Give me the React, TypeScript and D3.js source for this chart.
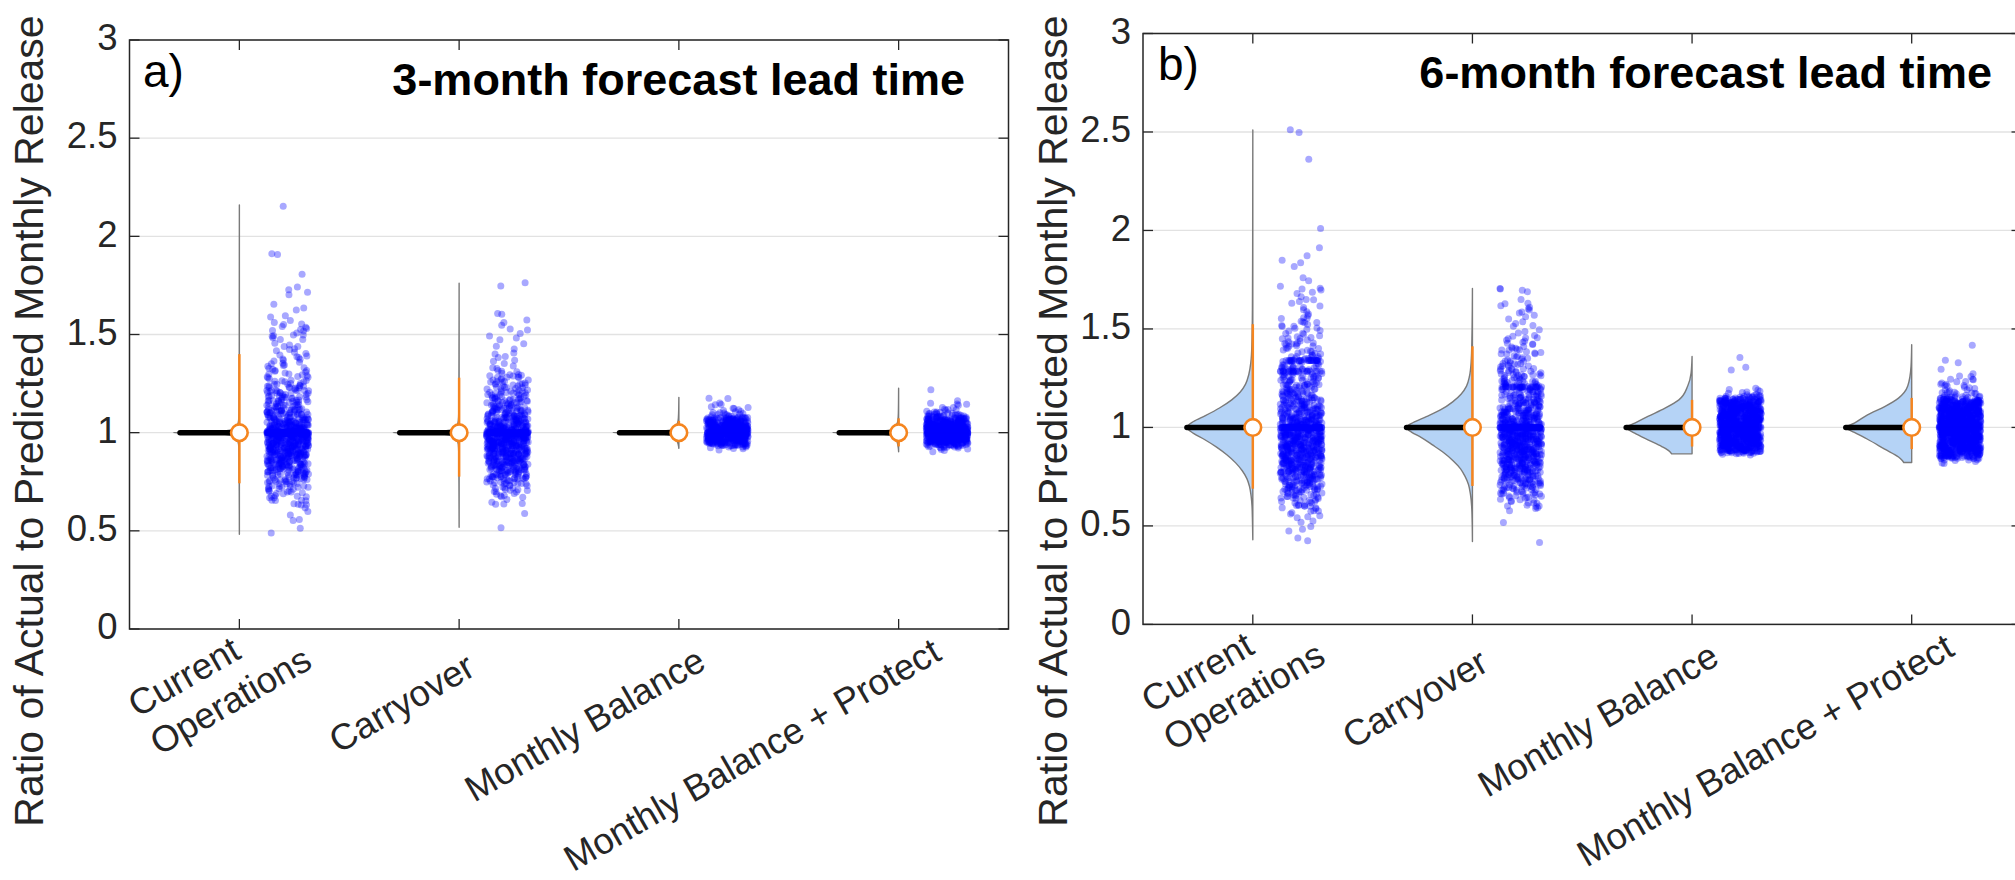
import React from "react";
import * as d3 from "d3";

const W = 2015;
const H = 880;
const FONT = "'Liberation Sans', Arial, Helvetica, sans-serif";
const AXIS_COLOR = "#262626";
const GRID_COLOR = "#e2e2e2";
const ORANGE = "#f5851f";
const VIOLIN_FILL = "#b5d3f6";
const VIOLIN_EDGE = "#7a7a7a";
const DOT_COLOR = "#0000ff";

// ---------- labels ----------
const categoryLines: string[][] = [["Current", "Operations"], ["Carryover"], ["Monthly Balance"], ["Monthly Balance + Protect"]];
const categoryPos = [1, 2, 3, 4];
const yTickValues = [0, 0.5, 1, 1.5, 2, 2.5, 3];
const yTickLabels = ["0", "0.5", "1", "1.5", "2", "2.5", "3"];
const panelTags = ["a)", "b)"];
const panelTitles = ["3-month forecast lead time", "6-month forecast lead time"];
const yAxisTitle = "Ratio of Actual to Predicted Monthly Release";
const BIN = 0.01;

// ---------- panel a (3-month): scatter histograms (counts per 0.01 bin from start) ----------
const aCOStart = 0.48;
const aCOCounts = [
  0, 1, 0, 1, 0, 0, 0, 1, 1, 0, 1, 0,
  1, 0, 1, 2, 2, 2, 2, 3, 3, 3,
  4, 4, 4, 5, 5, 6, 7, 7, 8, 9,
  10, 10, 11, 12, 13, 13, 14, 15, 16, 16,
  17, 17, 18, 19, 20, 20, 21, 22, 24, 26,
  28, 24, 21, 18, 16, 14, 13, 12, 11, 10,
  10, 9, 9, 8, 7, 7, 7, 7, 6, 6,
  6, 5, 5, 5, 5, 5, 4, 3, 3, 3,
  3, 2, 3, 2, 2, 3, 2, 2, 2, 2,
  2, 1, 2, 1, 2, 1, 1, 2, 1, 2,
  2, 1, 2, 2, 2, 2, 1, 1, 0, 1,
  1, 0, 1, 0, 1, 1, 0, 0, 0, 0,
  1, 0, 1, 1, 1, 0, 0, 0, 0, 0,
  0, 1, 0, 0, 0, 0, 0, 0, 0, 0,
  0, 2, 0, 0, 0, 0, 0, 0, 0, 0,
  0, 0, 0, 0, 0, 0, 0, 0, 0, 0,
  0, 0, 0, 0, 0, 1,
];
const aCOExact = [[1.0, 110]];

const aCAStart = 0.52;
const aCACounts = [
  1, 0, 0, 0, 0, 0, 0, 1,
  0, 0, 0, 1, 2, 1, 1, 2, 2, 2,
  3, 4, 4, 4, 5, 6, 7, 8, 8, 9,
  10, 11, 11, 12, 13, 14, 14, 15, 16, 17,
  17, 18, 18, 19, 20, 21, 21, 22, 24, 25,
  25, 22, 20, 17, 15, 14, 13, 12, 11, 11,
  10, 10, 9, 8, 8, 7, 7, 7, 6, 6,
  6, 5, 5, 4, 4, 5, 4, 4, 4, 3,
  3, 2, 1, 2, 1, 1, 1, 1, 1, 1,
  1, 1, 0, 1, 1, 1, 0, 1, 1, 1,
  1, 0, 1, 1, 0, 1, 1, 1, 0, 0,
  1, 1, 0, 0, 0, 0, 0, 0, 0, 0,
  0, 0, 0, 0, 0, 1, 1,
];
const aCAExact = [[1.0, 70]];

const aMBStart = 0.91;
const aMBCounts = [1, 3, 8, 18, 28, 34, 38, 42, 46, 46, 46, 42, 38, 34, 30, 26, 20, 12, 6, 4, 3, 3, 2, 2, 1, 0, 1, 1];
const aMBExact = [[1.0, 40]];

const aMPStart = 0.9;
const aMPCounts = [1, 2, 4, 10, 20, 28, 34, 38, 42, 46, 46, 46, 42, 38, 34, 30, 26, 22, 16, 10, 6, 4, 3, 2, 2, 2, 1, 0, 0, 0, 0, 0, 1];
const aMPExact = [[1.0, 40]];

// ---------- panel b (6-month) ----------
const bCOStart = 0.43;
const bCOCounts = [
  1, 1, 0, 0, 1, 1, 0,
  1, 0, 1, 1, 1, 2, 1, 2, 2, 3,
  4, 3, 4, 4, 5, 5, 6, 6, 7, 7,
  9, 8, 9, 10, 10, 11, 12, 12, 13, 13,
  14, 14, 15, 15, 15, 16, 16, 16, 16, 17,
  17, 17, 17, 17, 18, 18, 18, 18, 18, 18,
  18, 16, 15, 14, 14, 13, 12, 12, 11, 11,
  10, 10, 9, 9, 9, 8, 8, 8, 7, 7,
  7, 7, 6, 6, 6, 6, 5, 5, 5, 5,
  5, 5, 4, 4, 4, 4, 4, 4, 3, 3,
  3, 3, 3, 3, 3, 3, 2, 2, 2, 2,
  3, 2, 2, 2, 2, 2, 1, 1, 1, 1,
  1, 1, 1, 1, 1, 2, 1, 0, 1, 1,
  2, 1, 1, 0, 1, 0, 1, 0, 0, 0,
  0, 0, 1, 0, 1, 1, 0, 1, 0, 0,
  0, 1, 0, 0, 0, 0, 0, 0, 0, 0,
  0, 1, 0, 0, 0, 0, 0, 0, 0, 0,
  0, 0, 0, 0, 0, 0, 0, 0, 0, 0,
  0, 0, 0, 0, 0, 0, 0, 0, 0, 0,
  0, 0, 0, 0, 0, 0, 1, 0, 0, 0,
  0, 0, 0, 0, 0, 0, 0, 0, 0, 0,
  1, 1,
];
const bCOExact = [[1.0, 80], [1.34, 25], [1.285, 20]];

const bCAStart = 0.42;
const bCACounts = [
  1, 0, 0, 0, 0, 0, 0, 0,
  0, 0, 1, 0, 0, 0, 0, 0, 1, 2,
  3, 2, 3, 3, 4, 4, 5, 5, 6, 6,
  7, 8, 8, 9, 10, 10, 11, 11, 12, 13,
  13, 14, 14, 15, 15, 16, 16, 16, 17, 17,
  17, 18, 18, 18, 18, 18, 19, 19, 19, 19,
  18, 17, 16, 15, 14, 13, 13, 12, 11, 11,
  10, 10, 9, 9, 8, 8, 8, 7, 7, 7,
  7, 6, 6, 6, 5, 5, 5, 5, 4, 4,
  4, 4, 4, 3, 3, 3, 3, 3, 3, 3,
  3, 2, 2, 2, 2, 2, 2, 1, 1, 1,
  1, 1, 1, 1, 1, 1, 1, 1, 1, 1,
  2, 1, 1, 2, 0, 1, 0, 0, 0, 1,
  2, 1,
];
const bCAExact = [[1.0, 80], [1.205, 25]];

const bMBStart = 0.86;
const bMBCounts = [
  2, 12, 22, 26, 28, 30, 30, 30, 32, 32, 32, 32, 32, 32, 32, 32, 32, 32, 32, 32,
  30, 30, 30, 30, 28, 28, 26, 24, 20, 14,
  6, 3, 3, 2, 1,
  0, 0, 0, 0, 0, 0, 0, 0, 1, 0, 1, 0, 0, 0, 0, 1,
];
const bMBExact = [[1.0, 30]];

const bMPStart = 0.82;
const bMPCounts = [
  2, 4, 8, 16, 22, 26, 28, 30, 30, 30,
  32, 32, 32, 32, 32, 32, 32, 32, 32, 32,
  32, 32, 32, 32, 32, 30, 30, 30, 28, 28,
  26, 26, 20, 10, 5, 4, 4, 3, 3, 3,
  2, 3, 2, 1, 2, 1, 0, 0, 1, 0,
  0, 1, 1, 0, 0, 0, 0, 0, 0, 0,
  1,
];
const bMPExact = [[1.0, 30]];

// ---------- violin outlines: [ratio, relative half-width] from min to max ----------
const aCOViolin = [[0.482, 0], [0.7, 0.002], [0.9, 0.006], [0.94, 0.012], [0.965, 0.034], [0.975, 0.06], [0.986, 0.13], [0.993, 0.25], [0.997, 0.5], [1.0, 1], [1.003, 0.5], [1.007, 0.25], [1.014, 0.13], [1.025, 0.06], [1.035, 0.034], [1.06, 0.012], [1.1, 0.006], [1.4, 0.002], [2.16, 0]];
const aCAViolin = [[0.518, 0], [0.7, 0.002], [0.9, 0.006], [0.94, 0.012], [0.965, 0.034], [0.975, 0.06], [0.986, 0.13], [0.993, 0.25], [0.997, 0.5], [1.0, 1], [1.003, 0.5], [1.007, 0.25], [1.014, 0.13], [1.025, 0.06], [1.035, 0.034], [1.06, 0.012], [1.1, 0.006], [1.4, 0.002], [1.761, 0]];
const aMBViolin = [[0.92, 0], [0.94, 0.01], [0.958, 0.03], [0.97, 0.06], [0.983, 0.1], [0.99, 0.19], [0.996, 0.35], [0.998, 0.6], [1.0, 1], [1.002, 0.6], [1.004, 0.35], [1.01, 0.19], [1.017, 0.1], [1.03, 0.06], [1.042, 0.03], [1.06, 0.012], [1.1, 0.004], [1.18, 0]];
const aMPViolin = [[0.903, 0], [0.93, 0.008], [0.958, 0.03], [0.97, 0.06], [0.983, 0.1], [0.99, 0.19], [0.996, 0.35], [0.998, 0.6], [1.0, 1], [1.002, 0.6], [1.004, 0.35], [1.01, 0.19], [1.017, 0.1], [1.03, 0.06], [1.042, 0.03], [1.06, 0.012], [1.1, 0.004], [1.226, 0]];

const bCOViolin = [[0.43, 0], [0.52, 0.005], [0.6, 0.012], [0.65, 0.025], [0.7, 0.05], [0.74, 0.09], [0.78, 0.16], [0.82, 0.26], [0.86, 0.39], [0.9, 0.55], [0.94, 0.74], [0.97, 0.9], [1.0, 1], [1.03, 0.9], [1.06, 0.72], [1.1, 0.5], [1.14, 0.32], [1.18, 0.19], [1.22, 0.11], [1.27, 0.06], [1.33, 0.03], [1.42, 0.014], [1.6, 0.006], [2.0, 0.002], [2.51, 0]];
const bCAViolin = [[0.421, 0], [0.52, 0.004], [0.6, 0.012], [0.66, 0.03], [0.71, 0.06], [0.75, 0.11], [0.79, 0.18], [0.83, 0.29], [0.87, 0.43], [0.91, 0.6], [0.95, 0.78], [0.975, 0.92], [1.0, 1], [1.025, 0.9], [1.055, 0.7], [1.09, 0.48], [1.13, 0.3], [1.17, 0.17], [1.21, 0.09], [1.26, 0.045], [1.33, 0.02], [1.45, 0.008], [1.705, 0]];
const bMBViolin = [[0.866, 0.31], [0.878, 0.34], [0.903, 0.46], [0.937, 0.67], [0.971, 0.87], [1.0, 1], [1.022, 0.87], [1.056, 0.67], [1.098, 0.41], [1.14, 0.2], [1.21, 0.066], [1.276, 0.015], [1.36, 0]];
const bMPViolin = [[0.822, 0.12], [0.835, 0.15], [0.85, 0.2], [0.89, 0.41], [0.94, 0.67], [0.975, 0.87], [1.0, 1], [1.022, 0.87], [1.064, 0.67], [1.106, 0.41], [1.149, 0.2], [1.21, 0.06], [1.31, 0.01], [1.42, 0]];

// ---------- summary lines ----------
const aWhiskerLo = [0.742, 0.776, 0.955, 0.93];
const aWhiskerHi = [1.4, 1.28, 1.06, 1.073];
const aMedian = [1, 1, 1, 1];
const bWhiskerLo = [0.689, 0.703, 0.903, 0.89];
const bWhiskerHi = [1.524, 1.412, 1.14, 1.15];
const bMedian = [1, 1, 1, 1];
const modeValue = 1.0;

// ---------- helpers ----------
function hash(n: number) {
  const s = Math.sin(n * 127.1 + 311.7) * 43758.5453;
  return s - Math.floor(s);
}

function buildPoints(start: number, counts: number[], exact: number[][], seed: number) {
  const pts: { v: number; j: number }[] = [];
  let n = seed;
  counts.forEach((c, i) => {
    const center = start + i * BIN;
    for (let k = 0; k < c; k++) {
      n += 1;
      pts.push({ v: center + (hash(n * 1.37 + 0.5) - 0.5) * BIN, j: hash(n) });
    }
  });
  exact.forEach(([val, c]) => {
    for (let k = 0; k < c; k++) {
      n += 1;
      pts.push({ v: val, j: hash(n) });
    }
  });
  return pts;
}

let measureCtx: CanvasRenderingContext2D | null = null;
function textWidth(s: string, size: number) {
  if (!measureCtx && typeof document !== "undefined") {
    measureCtx = document.createElement("canvas").getContext("2d");
  }
  if (!measureCtx) return s.length * size * 0.5;
  measureCtx.font = `${size}px 'Liberation Sans', Arial`;
  return measureCtx.measureText(s).width;
}

type Group = { start: number; counts: number[]; exact: number[][]; violin: number[][] };

type PanelProps = {
  idx: number;
  xRange: [number, number];
  yRange: [number, number];
  groups: Group[];
  lo: number[];
  hi: number[];
  med: number[];
  yLabelX: number;
  yLabelY: number;
  tagX: number;
  tagY: number;
  titleX: number;
  titleY: number;
  modeFrac: number;
};

const TICK_FONT = 36.5;
const XLABEL_FONT = 36.5;
const XLABEL_LINE = 44;
const XLABEL_ANGLE = 30;
const YLABEL_FONT = 41;

function Panel(p: PanelProps) {
  const x = d3.scaleLinear().domain([0.5, 4.5]).range(p.xRange);
  const y = d3.scaleLinear().domain([0, 3]).range(p.yRange);
  const unit = x(1) - x(0);
  const maxW = 0.3 * unit;
  const [xl, xr] = p.xRange;
  const [yb, yt] = p.yRange;
  const tickLen = 10;

  const points = p.groups.map((g, gi) => buildPoints(g.start, g.counts, g.exact, p.idx * 10000 + gi * 2000));

  return (
    <g>
      {yTickValues.map((t) => (
        <line key={"g" + t} x1={xl} x2={xr} y1={y(t)} y2={y(t)} stroke={GRID_COLOR} strokeWidth={1.3} />
      ))}
      {p.groups.map((g, gi) => {
        const cx = x(categoryPos[gi]);
        const area = d3
          .area<number[]>()
          .y((d) => y(d[0]))
          .x0(() => cx)
          .x1((d) => cx - d[1] * maxW)
          .curve(d3.curveMonotoneY);
        return (
          <g key={"v" + gi}>
            <path d={area(g.violin) || ""} fill={VIOLIN_FILL} stroke={VIOLIN_EDGE} strokeWidth={1.4} strokeLinejoin="round" />
            <line x1={cx - maxW * p.modeFrac} x2={cx} y1={y(modeValue)} y2={y(modeValue)} stroke="#000" strokeWidth={5.5} strokeLinecap="round" />
            <line x1={cx} x2={cx} y1={y(p.lo[gi])} y2={y(p.hi[gi])} stroke={ORANGE} strokeWidth={2.5} />
            <circle cx={cx} cy={y(p.med[gi])} r={8.3} fill="#fff" stroke={ORANGE} strokeWidth={2.6} />
          </g>
        );
      })}
      {points.map((pts, gi) => {
        const cx = x(categoryPos[gi]);
        return (
          <g key={"s" + gi} fill={DOT_COLOR} fillOpacity={0.34}>
            {pts.map((pt, k) => (
              <circle key={k} cx={cx + (0.125 + pt.j * 0.19) * unit} cy={y(pt.v)} r={3.5} />
            ))}
          </g>
        );
      })}
      <rect x={xl} y={yt} width={xr - xl} height={yb - yt} fill="none" stroke={AXIS_COLOR} strokeWidth={1.5} />
      {categoryPos.map((c) => (
        <g key={"xt" + c}>
          <line x1={x(c)} x2={x(c)} y1={yb} y2={yb - tickLen} stroke={AXIS_COLOR} strokeWidth={1.3} />
          <line x1={x(c)} x2={x(c)} y1={yt} y2={yt + tickLen} stroke={AXIS_COLOR} strokeWidth={1.3} />
        </g>
      ))}
      {yTickValues.map((t, i) => (
        <g key={"yt" + t}>
          <line x1={xl} x2={xl + tickLen} y1={y(t)} y2={y(t)} stroke={AXIS_COLOR} strokeWidth={1.3} />
          <line x1={xr} x2={xr - tickLen} y1={y(t)} y2={y(t)} stroke={AXIS_COLOR} strokeWidth={1.3} />
          <text x={xl - 12} y={y(t)} dy="0.28em" textAnchor="end" fontSize={TICK_FONT} fill={AXIS_COLOR}>
            {yTickLabels[i]}
          </text>
        </g>
      ))}
      {categoryLines.map((lines, ci) => {
        const firstW = textWidth(lines[0], XLABEL_FONT);
        const n = lines.length;
        return (
          <text
            key={"xl" + ci}
            transform={`translate(${x(categoryPos[ci])},${yb + 50}) rotate(${-XLABEL_ANGLE})`}
            fontSize={XLABEL_FONT}
            fill={AXIS_COLOR}
            textAnchor="start"
          >
            {lines.map((s, li) => (
              <tspan key={li} x={-0.886 * firstW} y={-8 + (li - (n - 1) / 2) * XLABEL_LINE + 0.35 * XLABEL_FONT}>
                {s}
              </tspan>
            ))}
          </text>
        );
      })}
      <text transform={`translate(${p.yLabelX},${p.yLabelY}) rotate(-90)`} textAnchor="middle" fontSize={YLABEL_FONT} fill={AXIS_COLOR}>
        {yAxisTitle}
      </text>
      <text x={p.tagX} y={p.tagY} fontSize={46} fill="#000">
        {panelTags[p.idx]}
      </text>
      <text x={p.titleX} y={p.titleY} fontSize={45} fontWeight="bold" textAnchor="end" fill="#000">
        {panelTitles[p.idx]}
      </text>
    </g>
  );
}

export default function App() {
  const groupsA: Group[] = [
    { start: aCOStart, counts: aCOCounts, exact: aCOExact, violin: aCOViolin },
    { start: aCAStart, counts: aCACounts, exact: aCAExact, violin: aCAViolin },
    { start: aMBStart, counts: aMBCounts, exact: aMBExact, violin: aMBViolin },
    { start: aMPStart, counts: aMPCounts, exact: aMPExact, violin: aMPViolin },
  ];
  const groupsB: Group[] = [
    { start: bCOStart, counts: bCOCounts, exact: bCOExact, violin: bCOViolin },
    { start: bCAStart, counts: bCACounts, exact: bCAExact, violin: bCAViolin },
    { start: bMBStart, counts: bMBCounts, exact: bMBExact, violin: bMBViolin },
    { start: bMPStart, counts: bMPCounts, exact: bMPExact, violin: bMPViolin },
  ];
  return (
    <div style={{ position: "absolute", left: 0, top: 0, width: W, height: H, background: "#fff" }}>
      <svg width={W} height={H} style={{ display: "block", fontFamily: FONT }}>
        <rect x={0} y={0} width={W} height={H} fill="#fff" />
        <Panel
          idx={0}
          xRange={[129.5, 1008.5]}
          yRange={[629, 40]}
          groups={groupsA}
          lo={aWhiskerLo}
          hi={aWhiskerHi}
          med={aMedian}
          yLabelX={43}
          yLabelY={421}
          tagX={143}
          tagY={87}
          titleX={965}
          titleY={95}
          modeFrac={0.9}
        />
        <Panel
          idx={1}
          xRange={[1143, 2021.5]}
          yRange={[624.4, 33.5]}
          groups={groupsB}
          lo={bWhiskerLo}
          hi={bWhiskerHi}
          med={bMedian}
          yLabelX={1067}
          yLabelY={421}
          tagX={1158}
          tagY={80}
          titleX={1992}
          titleY={88}
          modeFrac={1}
        />
      </svg>
    </div>
  );
}
